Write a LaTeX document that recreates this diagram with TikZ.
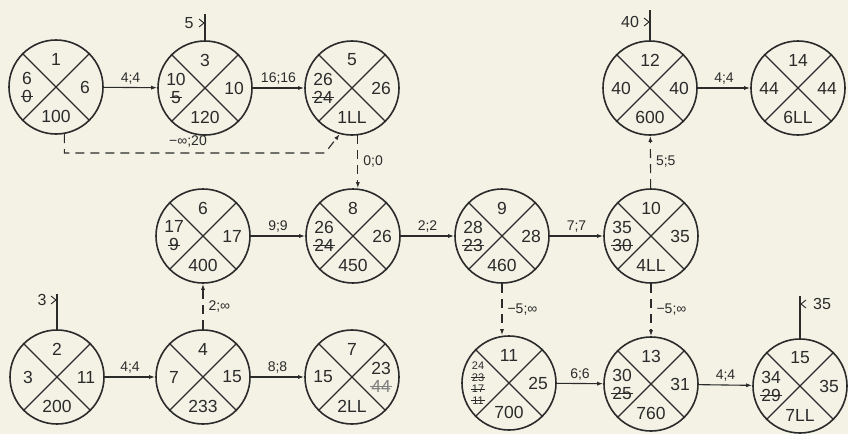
\documentclass[tikz,border=0pt]{standalone}
\usepackage{fontspec}
\setmainfont{Liberation Sans}
\usetikzlibrary{arrows.meta,calc}
\definecolor{paper}{HTML}{F3F2E5}
\definecolor{ink}{HTML}{2B2B2B}
\definecolor{pale}{HTML}{808080}
\newcommand\strk[1]{\setbox0\hbox{#1}\rlap{\kern-1pt\raisebox{0.3em}{\rule{\dimexpr\wd0+2pt\relax}{0.7pt}}}\box0}
\tikzset{
  ev/.style={circle, draw=ink, line width=1.6pt, minimum size=94pt, inner sep=0pt},
  cross/.style={draw=ink, line width=1.1pt},
  num/.style={text=ink, align=center, font=\fontsize{17.5}{18}\selectfont, inner sep=0pt},
  tinystack/.style={num, font=\fontsize{11}{11.5}\selectfont},
  work/.style={draw=ink, line width=1.1pt, -{Latex[length=6pt,width=4pt]}},
  fict/.style={work, dash pattern=on 9pt off 6pt},
  lbl/.style={text=ink, font=\fontsize{14}{14}\selectfont, inner sep=1pt},
  tick/.style={draw=ink, line width=1.1pt},
  chev/.style={draw=ink, line width=0.9pt},
}
\newcommand\evt[7]{%
  \node[ev] (#1) at (#2,#3) {};
  \draw[cross] (#1.north west) -- (#1.south east) (#1.north east) -- (#1.south west);
  \node[num] (#1t) at ($(#1)+(0,-28)$) {#4};
  \node[num] (#1l) at ($(#1)+(-29,0)$) {#5};
  \node[num] (#1r) at ($(#1)+(29,0)$) {#6};
  \node[num] (#1b) at ($(#1)+(0,29)$) {#7};
}
\begin{document}
\begin{tikzpicture}[x=1pt,y=-1pt]
\fill[paper] (0,0) rectangle (848,434);
\path[use as bounding box] (0,0) rectangle (848,434);

% events
\evt{n1}{56}{87}{1}{6\\\strk{0}}{6}{100}
\evt{n3}{205}{88}{3}{10\\\strk{5}}{10}{120}
\evt{n5}{352}{88}{5}{26\\\strk{24}}{26}{1LL}
\evt{n12}{650}{88}{12}{40}{40}{600}
\evt{n14}{798}{88}{14}{44}{44}{6LL}
\evt{n6}{203}{236}{6}{17\\\strk{9}}{17}{400}
\evt{n8}{353}{236}{8}{26\\\strk{24}}{26}{450}
\evt{n9}{502}{236}{9}{28\\\strk{23}}{28}{460}
\evt{n10}{651}{236}{10}{35\\\strk{30}}{35}{4LL}
\evt{n2}{57}{377}{2}{3}{11}{200}
\evt{n4}{203}{377}{4}{7}{15}{233}
\evt{n7}{352}{377}{7}{15}{23\\\textcolor{pale}{\strk{44}}}{2LL}
\evt{n11}{509}{383}{11}{}{25}{700}
\node[tinystack] (n11s) at ($(n11)+(-31,0)$) {24\\\strk{23}\\\strk{17}\\\strk{11}};
\evt{n13}{651}{384}{13}{30\\\strk{25}}{31}{760}
\evt{n15}{800}{386}{15}{34\\\strk{29}}{35}{7LL}

% real activities
\draw[work] (n1) -- node[lbl, above=2pt] {4;4} (n3);
\draw[work] (n3) -- node[lbl, above=2pt] {16;16} (n5);
\draw[work] (n12) -- node[lbl, above=2pt] {4;4} (n14);
\draw[work] (n6) -- node[lbl, above=2pt] {9;9} (n8);
\draw[work] (n8) -- node[lbl, above=2pt] {2;2} (n9);
\draw[work] (n9) -- node[lbl, above=2pt] {7;7} (n10);
\draw[work] (n2) -- node[lbl, above=2pt] {4;4} (n4);
\draw[work] (n4) -- node[lbl, above=2pt] {8;8} (n7);
\draw[work] (n11) -- node[lbl, above=2pt] {6;6} (n13);
\draw[work] (n13) -- node[lbl, above=2pt] {4;4} (n15);

% dummy / dashed activities
\draw[fict] (n1.-80) |- (325,153) -- (n5.-105);
\node[lbl] (l15) at (188,142) {−∞;20};
\draw[fict] (n5.-83) -- node[lbl, right=4pt] {0;0} (n5.-83 |- n8.north);
\draw[fict] (n10) -- node[lbl, right=4pt] {5;5} (n12);
\draw[fict] (n4) -- node[lbl, right=4pt] {2;∞} (n6);
\draw[fict] (n9.south) -- node[lbl, right=4pt] {−5;∞} (n9.south |- n11.north);
\draw[fict] (n10) -- node[lbl, right=4pt] {−5;∞} (n13);

% directive time marks
\coordinate (t3) at (205,14);
\draw[tick] (n3.north) -- (t3);
\node[lbl, font=\fontsize{16}{16}\selectfont] (m3) at (189,23) {5};
\draw[chev] (199,19) -- (204,23) -- (199,27);

\coordinate (t12) at (650,10);
\draw[tick] (n12.north) -- (t12);
\node[lbl, font=\fontsize{16}{16}\selectfont] (m12) at (630,22) {40};
\draw[chev] (644,18) -- (649,22) -- (644,26);

\coordinate (t2) at (57,294);
\draw[tick] (n2.north) -- (t2);
\node[lbl, font=\fontsize{16}{16}\selectfont] (m2) at (42,300) {3};
\draw[chev] (51,296) -- (56,300) -- (51,304);

\coordinate (t15) at (800,296);
\draw[tick] (n15.north) -- (t15);
\node[lbl, font=\fontsize{16}{16}\selectfont] (m15) at (822,304) {35};
\draw[chev] (806,300) -- (801,304) -- (806,308);
\end{tikzpicture}
\end{document}
